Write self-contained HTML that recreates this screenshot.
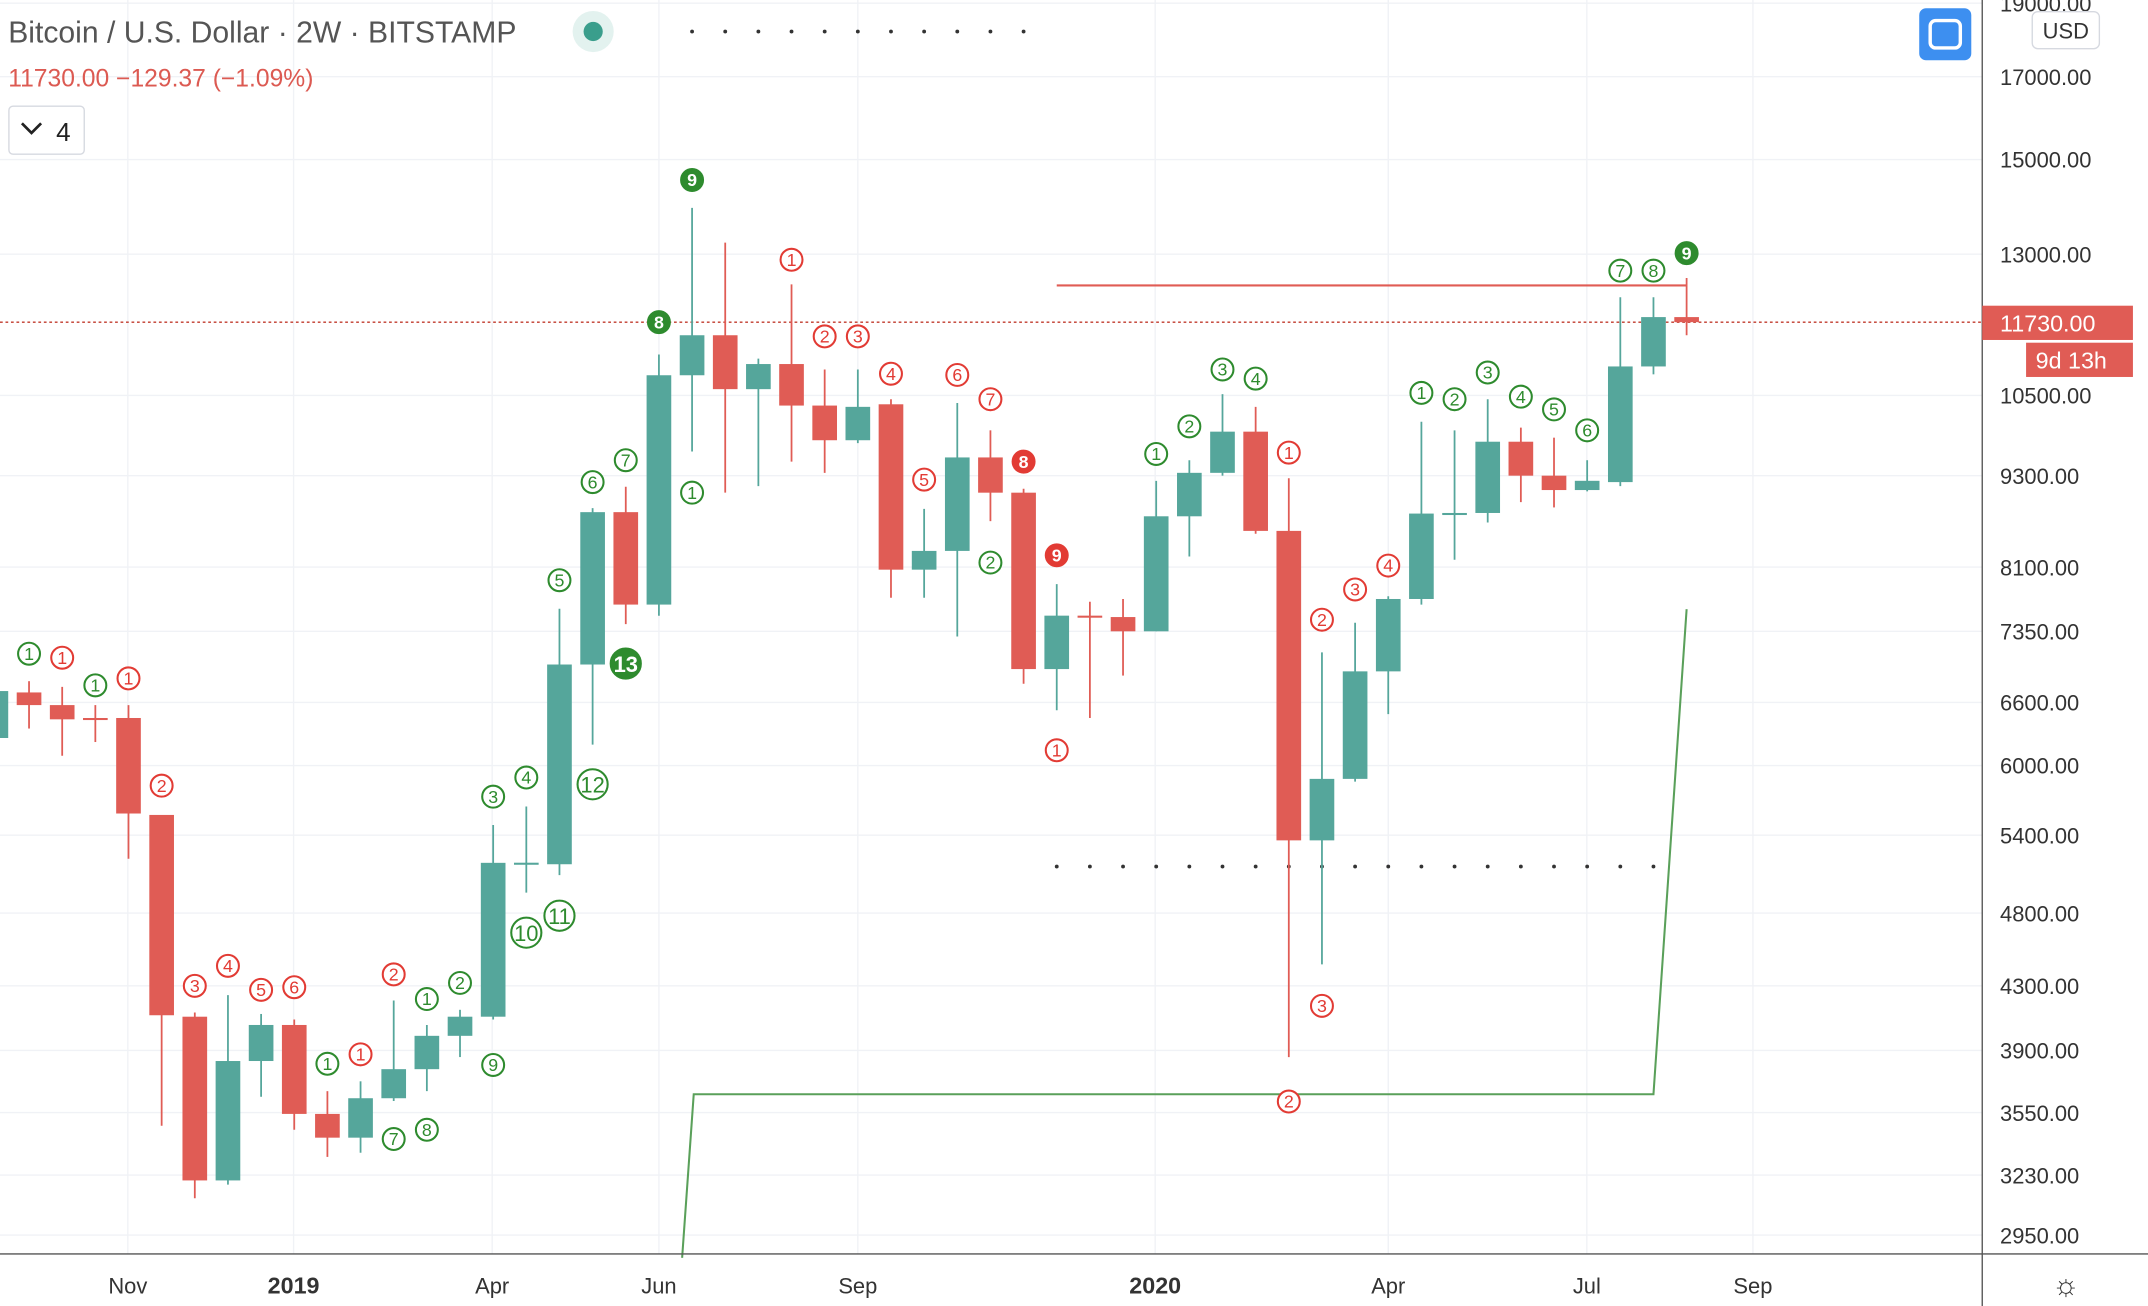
<!DOCTYPE html>
<html><head><meta charset="utf-8"><style>
html,body{margin:0;padding:0;background:#fff;}
svg{display:block;font-family:"Liberation Sans",sans-serif;}
</style></head><body>
<svg id="chart" width="2148" height="1306" viewBox="0 0 1568 953" preserveAspectRatio="none" xmlns="http://www.w3.org/2000/svg">
<g id="grid"></g>
<g id="overlay"></g>
<g id="candles"></g>
<g id="ann"></g>
<g id="axes"></g>
<g>
<text x="6" y="31" font-size="22" fill="#555">Bitcoin / U.S. Dollar · 2W · BITSTAMP</text>
<circle cx="433" cy="23" r="15" fill="#e3f2ef"/>
<circle cx="433" cy="23" r="7" fill="#3a9e8c"/>
<text x="6" y="63" font-size="18" fill="#dc5a52">11730.00 −129.37 (−1.09%)</text>
<rect x="6.5" y="77.5" width="55" height="35" rx="3" fill="#fff" stroke="#d6d9e0"/>
<path d="M16 90 L23 97 L30 90" fill="none" stroke="#222" stroke-width="2"/>
<text x="41" y="103" font-size="19" fill="#222">4</text>
<rect x="1401" y="6" width="38" height="38" rx="5" fill="#3d8ff0"/>
<rect x="1409" y="15" width="22" height="20" rx="4" fill="none" stroke="#fff" stroke-width="2.5"/>
<rect x="1483.5" y="8.5" width="49" height="27" rx="4" fill="#fff" stroke="#d6d9e0"/>
<text x="1508" y="28" font-size="16" fill="#333" text-anchor="middle">USD</text>
</g>
</svg>
<script>
const dates = ["2018-10-01","2018-10-15","2018-10-29","2018-11-12","2018-11-26","2018-12-10","2018-12-24","2019-01-07","2019-01-21","2019-02-04","2019-02-18","2019-03-04","2019-03-18","2019-04-01","2019-04-15","2019-04-29","2019-05-13","2019-05-27","2019-06-10","2019-06-24","2019-07-08","2019-07-22","2019-08-05","2019-08-19","2019-09-02","2019-09-16","2019-09-30","2019-10-14","2019-10-28","2019-11-11","2019-11-25","2019-12-09","2019-12-23","2020-01-06","2020-01-20","2020-02-03","2020-02-17","2020-03-02","2020-03-16","2020-03-30","2020-04-13","2020-04-27","2020-05-11","2020-05-25","2020-06-08","2020-06-22","2020-07-06","2020-07-20","2020-08-03","2020-08-17","2020-08-31","2020-09-14"];
const opens  = [6255,6701,6574,6447,6447,5568,4104,3204,3838,4053,3543,3418,3628,3791,3987,4104,5179,5168,6990,8801,7653,10825,11500,10600,11010,10340,9812,10360,8068,8300,9560,9064,6942,7526,7510,7350,8746,9340,9940,8555,5358,5880,6918,7718,8782,8790,9790,9300,9100,9210,10970,11820];
const highs  = [6787,6816,6758,6574,6574,5568,4130,4240,4121,4087,3667,3722,4206,4053,4147,5484,5640,7605,8855,9146,11170,13943,13230,11100,12420,10920,10920,10440,8845,10380,9960,9118,7893,7686,7718,9228,9520,10520,10320,9264,7120,7446,7750,10090,9960,10440,10000,9850,9520,12180,12180,12540];
const lows   = [6192,6345,6089,6217,5211,3480,3119,3184,3636,3459,3320,3341,3613,3667,3861,4087,4951,5084,6192,7430,7525,9646,9064,9155,9500,9340,9770,7733,7733,7292,8682,6790,6523,6447,6874,7350,8230,9300,8518,3861,4442,5856,6485,7653,8190,8664,8936,8864,9082,9155,10840,11500];
const closes = [6715,6574,6434,6434,5580,4113,3204,3838,4053,3543,3418,3628,3791,3987,4104,5179,5180,6990,8801,7653,10825,11500,10600,11010,10340,9812,10320,8068,8300,9560,9064,6942,7526,7510,7350,8746,9340,9940,8555,5358,5880,6918,7718,8782,8790,9790,9300,9100,9228,10970,11820,11730];
const priceTicks = [19000,17000,15000,13000,10500,9300,8100,7350,6600,6000,5400,4800,4300,3900,3550,3230,2950];
const timeTickLabels = ["Nov","2019","Apr","Jun","Sep","2020","Apr","Jul","Sep"];
const timeTickIndex = [3.98,8.98,14.97,20.0,26.0,34.97,42.0,47.99,53.0];
const boldTicks = ["2019","2020"];
// TD sequential: candle index, price level, label, colour (g/r), filled
const annIndex = [1,2,3,4,5,6,7,8,9,10,11,12,12,13,13,14,15,15,16,16,17,17,18,18,19,19,20,21,21,24,25,26,27,28,29,30,30,31,32,32,35,36,37,38,39,40,41,42,39,40,43,44,45,46,47,48,49,50,51];
const annPrice = [7105,7062,6773,6845,5820,4300,4432,4274,4291,3822,3877,4375,3411,4215,3459,4319,3815,5724,5892,4660,4781,7940,5832,9210,7000,9520,11730,14543,9064,12890,11480,11480,10850,9245,10830,10440,8155,9500,8245,6140,9610,10020,10920,10770,9630,7480,7830,8118,3610,4172,10540,10440,10870,10480,10280,9960,12680,12680,13020];
const annText = ["1","1","1","1","2","3","4","5","6","1","1","2","7","1","8","2","9","3","4","10","11","5","12","6","13","7","8","9","1","1","2","3","4","5","6","7","2","8","9","1","1","2","3","4","1","2","3","4","2","3","1","2","3","4","5","6","7","8","9"];
const annColor = ["g","r","g","r","r","r","r","r","r","g","r","r","g","g","g","g","g","g","g","g","g","g","g","g","g","g","g","g","g","r","r","r","r","r","r","r","g","r","r","r","g","g","g","g","r","r","r","r","r","r","g","g","g","g","g","g","g","g","g"];
const annFilled = [0,0,0,0,0,0,0,0,0,0,0,0,0,0,0,0,0,0,0,0,0,0,0,0,1,0,1,1,0,0,0,0,0,0,0,0,0,1,1,0,0,0,0,0,0,0,0,0,0,0,0,0,0,0,0,0,0,0,1];
// overlay levels
const resistanceLevel = 12400, resistanceStart = 32, resistanceEnd = 51;
const supportDotsLevel = 5150, supportDotsStart = 32, supportDotsEnd = 50;
const topDotsStart = 21, topDotsEnd = 31;
const stepLevels = [2850, 3650, 3650, 7600];
const stepIndex = [20.7, 21.05, 50.0, 51.0];
const lastPrice = 11730;

const NS="http://www.w3.org/2000/svg";
const X0=-3, STEP=24.2, PLOT_R=1447, PLOT_B=915;
const xs=i=>X0+i*STEP;
const ys=p=>56+(Math.log(17000)-Math.log(p))*482.6;
function mk(tag,attrs,parent){const e=document.createElementNS(NS,tag);for(const k in attrs)e.setAttribute(k,attrs[k]);parent.appendChild(e);return e;}
const G=document.getElementById('grid'),C=document.getElementById('candles'),A=document.getElementById('ann'),O=document.getElementById('overlay'),AX=document.getElementById('axes');
const GREEN="#55a69b",RED="#e05c55",AG="#2e8b2e",AR="#e23b34";

priceTicks.forEach(p=>{const y=ys(p);
 const l=mk('line',{x1:0,x2:PLOT_R,y1:y,y2:y,stroke:"#f0f2f6","stroke-width":1},G);
 
 
 const t=mk('text',{x:1460,y:y+6,"font-size":16,fill:"#333"},AX);t.textContent=p.toFixed(2);
 
 
});
timeTickIndex.forEach((ti,k)=>{const x=xs(ti);
 const l=mk('line',{x1:x,x2:x,y1:0,y2:PLOT_B,stroke:"#f0f2f6","stroke-width":1},G);
 
 
 const b=boldTicks.includes(timeTickLabels[k]);
 const t=mk('text',{x:x,y:944,"font-size":b?17:16,"font-weight":b?"bold":"normal",fill:"#333","text-anchor":"middle"},AX);t.textContent=timeTickLabels[k];
 
 
});
let l1=mk('line',{x1:0,x2:1568,y1:PLOT_B,y2:PLOT_B,stroke:"#555","stroke-width":1},AX);


let l2=mk('line',{x1:PLOT_R,x2:PLOT_R,y1:0,y2:953,stroke:"#555","stroke-width":1},AX);


let gear=mk('text',{x:1508,y:945,"font-size":22,fill:"#333","text-anchor":"middle"},AX);gear.textContent="☼";



// current price dotted line
let cl=mk('line',{x1:0,x2:PLOT_R,y1:ys(lastPrice),y2:ys(lastPrice),stroke:"#c0392b","stroke-width":1,"stroke-dasharray":"2,2"},O);


// resistance
let rl=mk('line',{x1:xs(resistanceStart),x2:xs(resistanceEnd),y1:ys(resistanceLevel),y2:ys(resistanceLevel),stroke:"#e05c55","stroke-width":1.5},O);


// green step line
let pts=stepIndex.map((s,k)=>xs(s)+","+ys(stepLevels[k])).join(" ");
let sl=mk('polyline',{points:pts,fill:"none",stroke:"#5aa05a","stroke-width":1.5},O);


// dotted rows
for(let i=topDotsStart;i<=topDotsEnd;i++){const d=mk('circle',{cx:xs(i),cy:23,r:1.4,fill:"#333"},O);
 
 }
for(let i=supportDotsStart;i<=supportDotsEnd;i++){const d=mk('circle',{cx:xs(i),cy:ys(supportDotsLevel),r:1.4,fill:"#333"},O);
 
 }

// candles
opens.forEach((o,i)=>{const c=closes[i],up=c>=o,col=up?GREEN:RED,x=xs(i);
 const g=mk('g',{},C);
 
 
 mk('line',{x1:x,x2:x,y1:ys(highs[i]),y2:ys(lows[i]),stroke:col,"stroke-width":1.3},g);
 const top=ys(Math.max(o,c)),bot=ys(Math.min(o,c));
 mk('rect',{x:x-9,y:top,width:18,height:Math.max(1.5,bot-top),fill:col},g);
});

// annotations
annIndex.forEach((ci,k)=>{const x=xs(ci),y=ys(annPrice[k]),txt=annText[k],col=annColor[k]=="g"?AG:AR,big=txt.length>1,f=annFilled[k];
 const g=mk('g',{},A);
 
 
 const r=big?11:8;
 mk('circle',{cx:x,cy:y,r:r,fill:f?col:"#fff",stroke:col,"stroke-width":1.5},g);
 const t=mk('text',{x:x,y:y+(big?6:4.5),"font-size":big?16:13,"font-weight":f?"bold":"normal",fill:f?"#fff":col,"text-anchor":"middle"},g);t.textContent=txt;
});

// price labels on axis
let pl=mk('rect',{x:PLOT_R,y:ys(lastPrice)-12,width:110,height:25,fill:"#e05c55"},AX);


let pt=mk('text',{x:1460,y:ys(lastPrice)+7,"font-size":17,fill:"#fff"},AX);pt.textContent=lastPrice.toFixed(2);


let cb=mk('rect',{x:1479,y:ys(lastPrice)+15,width:78,height:25,fill:"#e05c55"},AX);


let ct=mk('text',{x:1486,y:ys(lastPrice)+34,"font-size":17,fill:"#fff"},AX);ct.textContent="9d 13h";


</script>
</body></html>
